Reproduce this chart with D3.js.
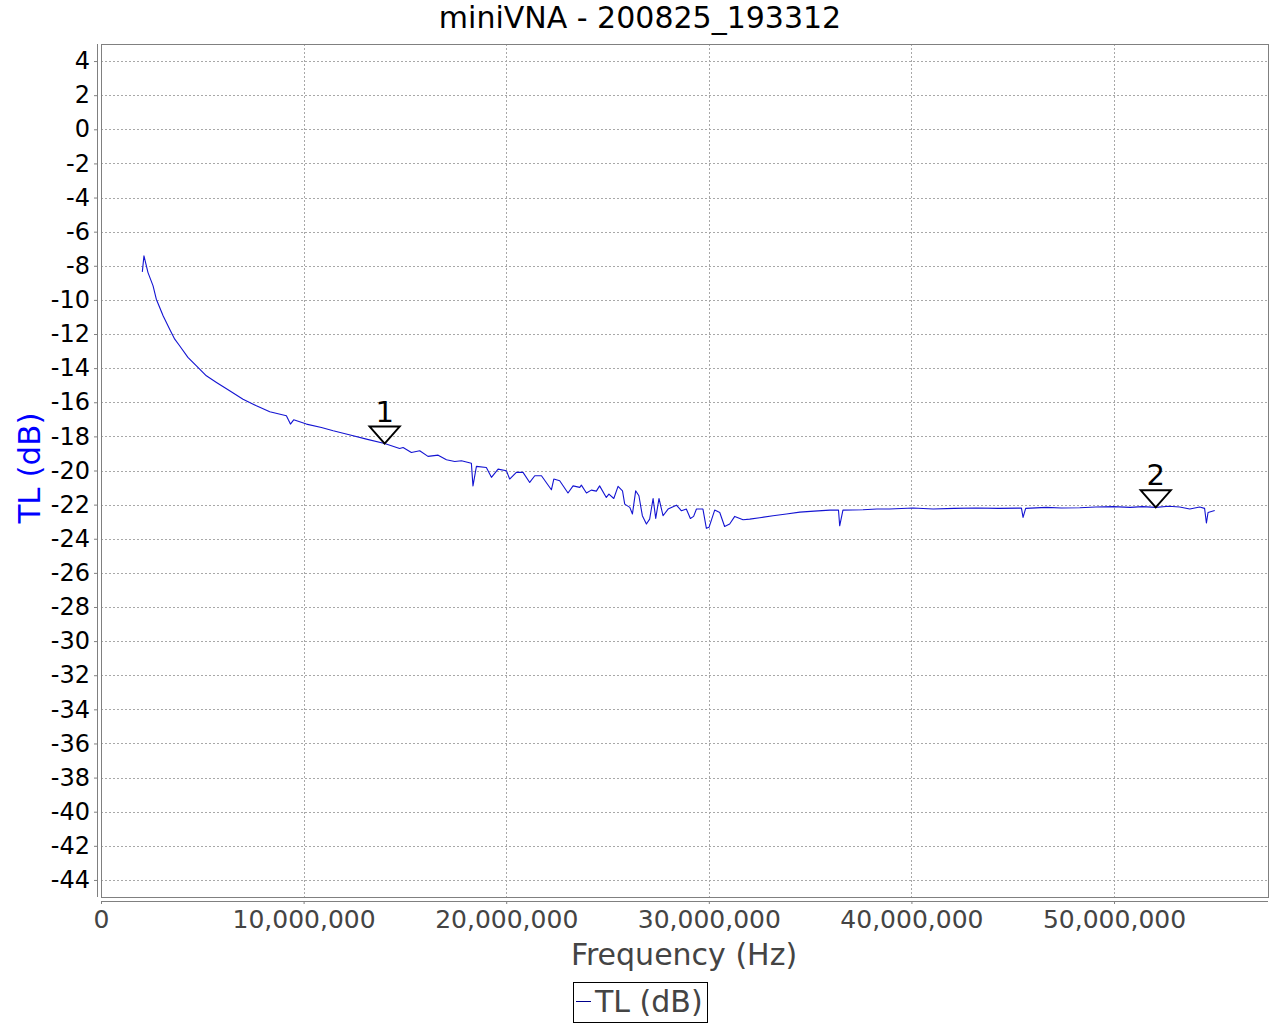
<!DOCTYPE html>
<html>
<head>
<meta charset="utf-8">
<script src="https://cdn.jsdelivr.net/npm/d3@7"></script>
<style>
  body { margin: 0; background: #fff; }
  svg { font-family: "DejaVu Sans", sans-serif; }
</style>
</head>
<body>
<script>
// frequency in MHz, transmission loss in dB
var freqMHz = [2.04, 2.12, 2.32, 2.57, 2.73, 3.07, 3.39, 3.64, 3.88, 4.29, 4.71, 5.20, 5.70, 6.35, 7.01, 7.67, 8.33, 9.15, 9.35, 9.51,
  10.14, 10.88, 11.46, 12.30, 13.10, 14.00, 14.74, 14.91, 15.32, 15.73, 16.14, 16.64, 17.05, 17.46, 17.79, 18.28, 18.36, 18.53, 19.02, 19.27,
  19.60, 20.01, 20.17, 20.50, 20.83, 21.16, 21.41, 21.74, 22.23, 22.35, 22.64, 23.05, 23.30, 23.63, 23.71, 23.96, 24.20, 24.45, 24.61, 24.94,
  25.07, 25.31, 25.52, 25.74, 25.85, 26.10, 26.23, 26.39, 26.55, 26.72, 26.92, 27.08, 27.25, 27.38, 27.54, 27.74, 27.99, 28.40, 28.65, 28.89,
  29.09, 29.25, 29.39, 29.71, 29.88, 30.01, 30.29, 30.54, 30.78, 31.03, 31.28, 31.69, 32.02, 32.51, 33.17, 33.83, 34.49, 35.20, 35.97, 36.40,
  36.46, 36.62, 37.61, 38.30, 38.93, 40.08, 41.07, 42.10, 43.21, 44.30, 45.43, 45.51, 45.64, 46.66, 47.40, 48.31, 49.10, 49.95, 50.80, 51.40,
  52.06, 52.70, 53.24, 53.74, 54.23, 54.47, 54.56, 54.64, 54.97];
var tlDb = [-8.36, -7.42, -8.40, -9.18, -9.96, -10.94, -11.72, -12.30, -12.69, -13.37, -13.87, -14.45, -14.84, -15.33, -15.82, -16.21, -16.56, -16.79, -17.28, -17.03,
  -17.28, -17.48, -17.67, -17.92, -18.16, -18.42, -18.71, -18.65, -18.94, -18.84, -19.17, -19.10, -19.37, -19.47, -19.43, -19.57, -20.90, -19.76, -19.82, -20.40,
  -19.92, -20.01, -20.50, -20.11, -20.11, -20.70, -20.31, -20.31, -21.13, -20.50, -20.60, -21.32, -20.90, -20.99, -20.86, -21.32, -21.15, -21.21, -20.90, -21.58,
  -21.38, -21.64, -20.93, -21.19, -21.97, -22.16, -22.55, -21.19, -21.48, -22.65, -23.14, -22.85, -21.64, -22.81, -21.64, -22.65, -22.26, -22.03, -22.36, -22.26,
  -22.81, -22.69, -22.26, -22.26, -23.39, -23.33, -22.32, -22.46, -23.28, -23.14, -22.69, -22.89, -22.85, -22.77, -22.65, -22.55, -22.44, -22.38, -22.32, -22.32,
  -23.24, -22.32, -22.30, -22.26, -22.26, -22.20, -22.26, -22.22, -22.20, -22.22, -22.20, -22.75, -22.22, -22.16, -22.20, -22.18, -22.14, -22.12, -22.16, -22.12,
  -22.16, -22.10, -22.14, -22.26, -22.14, -22.22, -23.08, -22.46, -22.34];

var markerLabels = ["1", "2"];
var markerMHz = [14.0, 52.06];
var markerDb = [-18.42, -22.16];

var yTicks = d3.range(4, -45, -2);
var xTicks = [0, 10e6, 20e6, 30e6, 40e6, 50e6];

var W = 1280, H = 1024;
var plot = {left: 101, right: 1268, top: 44, bottom: 897};

var svg = d3.select("body").append("svg").attr("width", W).attr("height", H);

var x = d3.scaleLinear().domain([0, 57.6e6]).range([plot.left, plot.right]);
var y = d3.scaleLinear().domain([-45, 5]).range([plot.bottom, plot.top]);

// title
svg.append("text")
  .attr("x", 640).attr("y", 28)
  .attr("text-anchor", "middle")
  .attr("font-size", 30)
  .attr("fill", "#000")
  .text("miniVNA - 200825_193312");

// grid
var grid = svg.append("g");
grid.selectAll(".hg").data(yTicks).enter().append("line")
  .attr("x1", plot.left).attr("x2", plot.right)
  .attr("y1", function(d){ return Math.round(y(d)) + 0.5; })
  .attr("y2", function(d){ return Math.round(y(d)) + 0.5; })
  .attr("stroke", "#a8a8a8").attr("stroke-width", 1).attr("stroke-dasharray", "2,2");
grid.selectAll(".vg").data(xTicks.slice(1)).enter().append("line")
  .attr("y1", plot.top).attr("y2", plot.bottom)
  .attr("x1", function(d){ return Math.round(x(d)) + 0.5; })
  .attr("x2", function(d){ return Math.round(x(d)) + 0.5; })
  .attr("stroke", "#a8a8a8").attr("stroke-width", 1).attr("stroke-dasharray", "2,2");

// plot outline
svg.append("rect")
  .attr("x", plot.left + 0.5).attr("y", plot.top + 0.5)
  .attr("width", plot.right - plot.left).attr("height", plot.bottom - plot.top)
  .attr("fill", "none").attr("stroke", "#808080").attr("stroke-width", 1);

// y axis, offset a little to the left (plain hyphen for negatives)
var yAxis = svg.append("g")
  .attr("transform", "translate(" + (plot.left - 4) + ",0)")
  .call(d3.axisLeft(y).tickValues(yTicks).tickSize(3).tickPadding(4).tickFormat(function(d){ return String(d); }));
yAxis.select(".domain").attr("stroke", "#808080").attr("d", "M0.5," + plot.top + "V" + plot.bottom);
yAxis.selectAll(".tick line").attr("stroke", "#808080");
yAxis.selectAll(".tick text").attr("font-size", 24).attr("fill", "#000").attr("font-family", "DejaVu Sans");

// x axis, offset a little below
var xAxis = svg.append("g")
  .attr("transform", "translate(0," + (plot.bottom + 4) + ")")
  .call(d3.axisBottom(x).tickValues(xTicks).tickSize(3).tickPadding(6).tickFormat(d3.format(",")));
xAxis.select(".domain").attr("stroke", "#808080").attr("d", "M" + plot.left + ",0.5H" + plot.right);
xAxis.selectAll(".tick line").attr("stroke", "#808080");
xAxis.selectAll(".tick text").attr("font-size", 25).attr("fill", "#444").attr("font-family", "DejaVu Sans");

// axis labels
svg.append("text")
  .attr("x", 684).attr("y", 965)
  .attr("text-anchor", "middle")
  .attr("font-size", 30).attr("fill", "#444")
  .text("Frequency (Hz)");
svg.append("text")
  .attr("transform", "translate(40,468) rotate(-90)")
  .attr("text-anchor", "middle")
  .attr("font-size", 31).attr("fill", "#0000ff")
  .text("TL (dB)");

// series
var pts = freqMHz.map(function(f, i){ return {f: f * 1e6, v: tlDb[i]}; });
var line = d3.line()
  .x(function(d){ return x(d.f); })
  .y(function(d){ return y(d.v); });
svg.append("path")
  .attr("d", line(pts))
  .attr("fill", "none")
  .attr("stroke", "#1414d2")
  .attr("stroke-width", 1.1)
  .attr("stroke-linejoin", "round");

// markers
var mk = svg.append("g").selectAll("g").data(markerLabels).enter().append("g")
  .attr("transform", function(d, i){ return "translate(" + x(markerMHz[i] * 1e6) + "," + y(markerDb[i]) + ")"; });
mk.append("path")
  .attr("d", "M0,0L-15,-17L15,-17Z")
  .attr("fill", "none").attr("stroke", "#000").attr("stroke-width", 2);
mk.append("text")
  .attr("y", -22)
  .attr("text-anchor", "middle")
  .attr("font-size", 29).attr("fill", "#000")
  .text(function(d){ return d; });

// legend
var lg = svg.append("g");
lg.append("rect")
  .attr("x", 573.5).attr("y", 982.5).attr("width", 134).attr("height", 40)
  .attr("fill", "#fff").attr("stroke", "#000").attr("stroke-width", 1);
lg.append("line")
  .attr("x1", 576).attr("x2", 591).attr("y1", 1001.5).attr("y2", 1001.5)
  .attr("stroke", "#00008b").attr("stroke-width", 1);
lg.append("text")
  .attr("x", 595).attr("y", 1012)
  .attr("font-size", 30).attr("fill", "#444")
  .text("TL (dB)");
</script>
</body>
</html>
